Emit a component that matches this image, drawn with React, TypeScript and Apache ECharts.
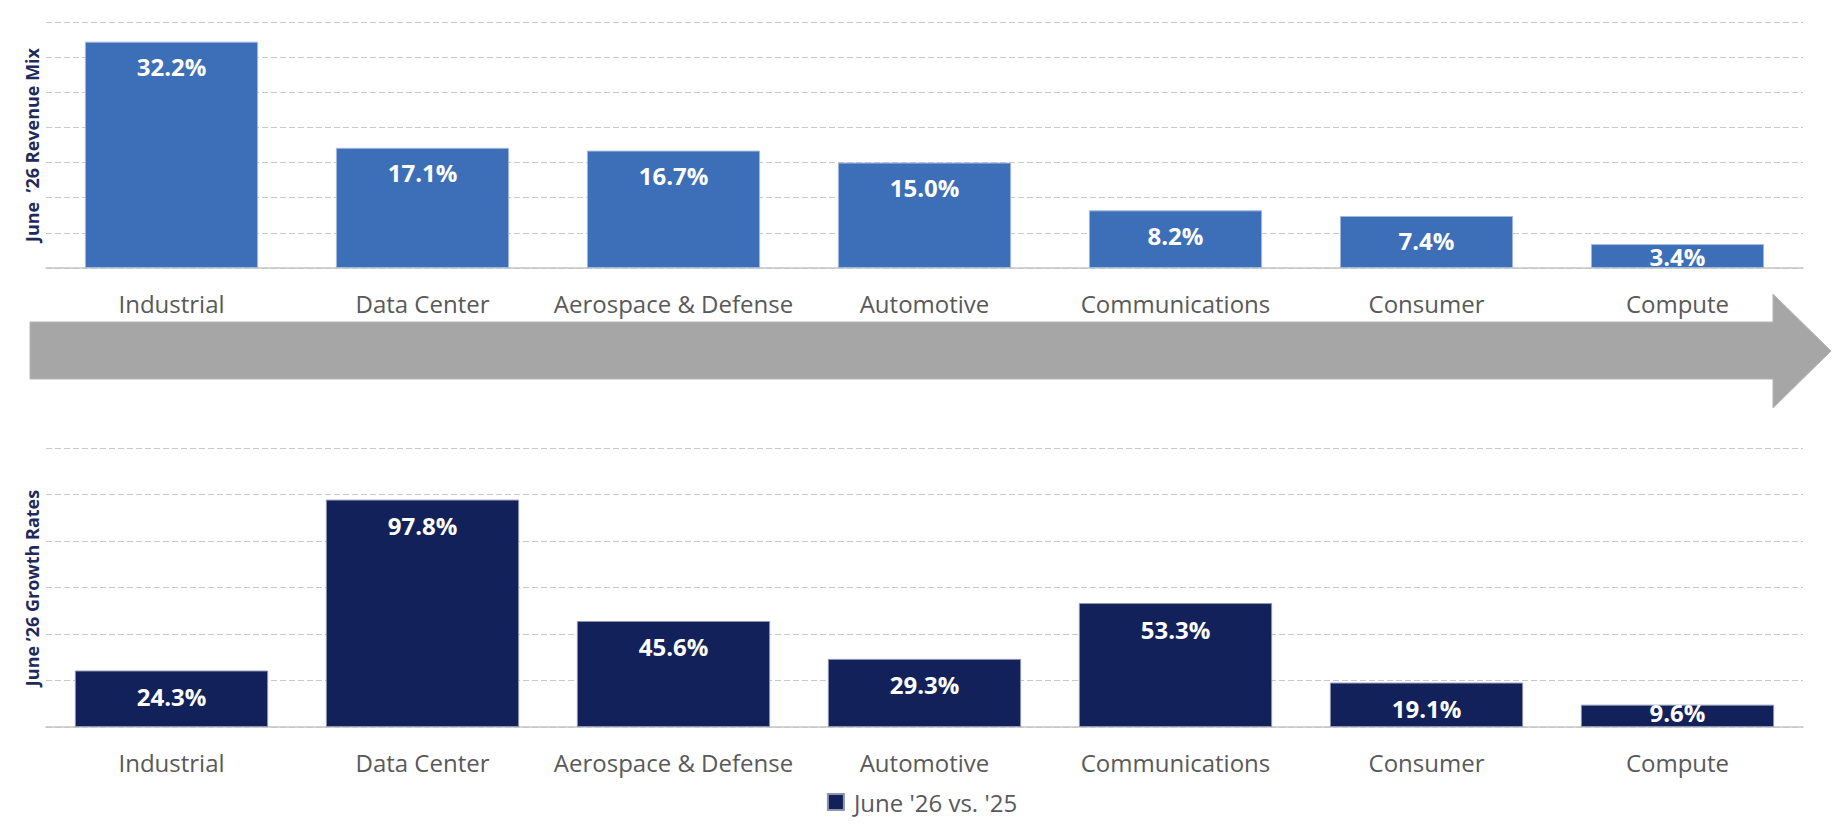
import React, { useEffect, useRef } from "react";
import * as echarts from "echarts";

const categories = [
  "Industrial",
  "Data Center",
  "Aerospace & Defense",
  "Automotive",
  "Communications",
  "Consumer",
  "Compute",
];
const revenueMix = [32.2, 17.1, 16.7, 15.0, 8.2, 7.4, 3.4];
const growthRates = [24.3, 97.8, 45.6, 29.3, 53.3, 19.1, 9.6];
const topTitle = "June  \u201926 Revenue Mix";
const bottomTitle = "June \u201926 Growth Rates";
const legendLabel = "June '26 vs. '25";

const FONT = "'Open Sans', 'Noto Sans', sans-serif";
const TOP_BLUE = "#3D6FB8";
const NAVY = "#13215B";

function buildBarData(values: number[], smallLimit: number, offsetY: number) {
  return values.map((v) =>
    v < smallLimit
      ? { value: v, label: { position: "inside", offset: [0, offsetY] } }
      : { value: v }
  );
}

export default function App() {
  const ref = useRef<HTMLDivElement>(null);

  useEffect(() => {
    document.body.style.margin = "0";
    const chart = echarts.init(ref.current!, undefined, { renderer: "svg" });

    const catAxis = (gridIndex: number) => ({
      type: "category",
      gridIndex,
      data: categories,
      axisTick: { show: false },
      axisLine: { show: true, lineStyle: { color: "#c6c6c6", width: 1.5 } },
      axisLabel: {
        show: true,
        margin: 23,
        fontSize: 24,
        lineHeight: 24,
        color: "#595959",
        fontFamily: FONT,
        interval: 0,
      },
    });

    const valAxis = (gridIndex: number, max: number, interval: number) => ({
      type: "value",
      gridIndex,
      min: 0,
      max,
      interval,
      axisLabel: { show: false },
      axisLine: { show: false },
      axisTick: { show: false },
      splitLine: {
        show: true,
        lineStyle: { color: "#c9c9c9", type: [6, 3], width: 1 },
      },
    });

    const labelBase = {
      show: true,
      color: "#ffffff",
      fontWeight: "bold",
      fontSize: 24,
      lineHeight: 28,
      fontFamily: FONT,
      formatter: (p: any) => Number(p.value).toFixed(1) + "%",
    };

    const titleStyle = (text: string) => ({
      text,
      align: "center",
      verticalAlign: "middle",
      fontSize: 18,
      fontWeight: "bold",
      fontFamily: FONT,
      fill: "#1F2A5C",
    });

    chart.setOption({
      animation: false,
      textStyle: { fontFamily: FONT },
      grid: [
        { left: 46, width: 1757, top: 22, height: 246 },
        { left: 46, width: 1757, top: 448, height: 279 },
      ],
      xAxis: [catAxis(0), catAxis(1)],
      yAxis: [valAxis(0, 35, 5), valAxis(1, 120, 20)],
      legend: {
        data: [legendLabel],
        left: "center",
        top: 784,
        icon: "rect",
        itemWidth: 16,
        itemHeight: 16,
        textStyle: {
          fontSize: 24,
          lineHeight: 26,
          color: "#595959",
          fontFamily: FONT,
          padding: [0, 0, 0, 5],
        },
      },
      series: [
        {
          name: "Revenue Mix",
          type: "bar",
          xAxisIndex: 0,
          yAxisIndex: 0,
          data: buildBarData(revenueMix, 5, 0),
          barCategoryGap: "31%",
          itemStyle: { color: TOP_BLUE, borderColor: "#a3b8de", borderWidth: 1 },
          label: { ...labelBase, position: "insideTop", distance: 11 },
        },
        {
          name: legendLabel,
          type: "bar",
          xAxisIndex: 1,
          yAxisIndex: 1,
          data: buildBarData(growthRates, 15, -3),
          barCategoryGap: "23%",
          itemStyle: { color: NAVY, borderColor: "#8e95b0", borderWidth: 1 },
          label: { ...labelBase, position: "insideTop", distance: 12 },
        },
      ],
      graphic: [
        {
          type: "polygon",
          silent: true,
          shape: {
            points: [
              [30, 322],
              [1773, 322],
              [1773, 294],
              [1831, 351],
              [1773, 408],
              [1773, 379],
              [30, 379],
            ],
          },
          style: { fill: "#A6A6A6", stroke: "#b4b4b4", lineWidth: 1 },
        },
        {
          type: "text",
          x: 32,
          y: 145,
          rotation: Math.PI / 2,
          style: titleStyle(topTitle),
        },
        {
          type: "text",
          x: 32,
          y: 588,
          rotation: Math.PI / 2,
          style: titleStyle(bottomTitle),
        },
      ],
    });

    return () => chart.dispose();
  }, []);

  return (
    <div
      ref={ref}
      style={{ position: "fixed", left: 0, top: 0, width: 1844, height: 826, background: "#ffffff" }}
    />
  );
}
